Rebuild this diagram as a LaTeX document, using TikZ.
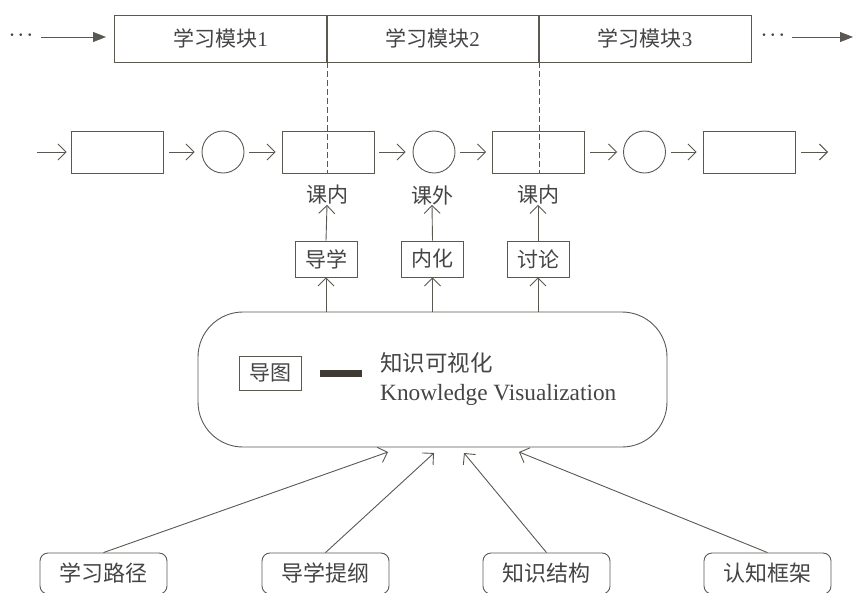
\documentclass[tikz,border=0pt]{standalone}
\usepackage{fontspec}
\setmainfont{Liberation Serif}
\newfontfamily\cjk{Noto Sans CJK SC}
\usetikzlibrary{arrows.meta}
\definecolor{ln}{HTML}{5B5852}
\definecolor{tx}{HTML}{444444}
\definecolor{bar}{HTML}{3F3B33}
\tikzset{
  base/.style={draw=ln, line width=0.9pt, text=tx, inner sep=0pt},
  cell/.style={base, minimum width=213pt, minimum height=47pt, font=\fontsize{21}{24}\selectfont},
  sq/.style={base, minimum width=92pt, minimum height=42pt},
  circ/.style={base, circle, minimum size=42pt},
  lab/.style={text=tx, inner sep=0pt, font=\cjk\fontsize{21}{24}\selectfont},
  smallbox/.style={base, minimum width=62pt, minimum height=36pt, font=\cjk\fontsize{21}{24}\selectfont},
  bottombox/.style={base, rounded corners=8pt, minimum width=127pt, minimum height=41pt, font=\cjk\fontsize{22}{26}\selectfont},
  con/.style={draw=ln, line width=0.9pt, -{Straight Barb[length=8pt,width=16pt,line width=0.9pt]}},
  bigarr/.style={draw=ln, line width=0.9pt, -{Triangle[length=13pt,width=10pt]}},
  dashline/.style={draw=ln, line width=0.9pt, dash pattern=on 6pt off 3pt},
  dots/.style={text=tx, inner sep=0pt, font=\fontsize{17}{20}\selectfont\boldmath}
}
\begin{document}
\begin{tikzpicture}[x=1pt,y=-1pt]
\useasboundingbox (0,0) rectangle (853,592);
% top modules
\node[cell] (m1) at (220.5,38.5) {{\cjk 学习模块}1};
\node[cell] (m2) at (432.5,38.5) {{\cjk 学习模块}2};
\node[cell] (m3) at (645,38.5) {{\cjk 学习模块}3};
\node[dots] (dl) at (21,35) {$\cdots$};
\node[dots] (dr) at (773,35) {$\cdots$};
\coordinate (al1) at (41,37);
\coordinate (al2) at (106,37);
\coordinate (ar1) at (792,37);
\coordinate (ar2) at (853,37);
\draw[bigarr] (al1) -- (al2);
\draw[bigarr] (ar1) -- (ar2);
% row of steps
\node[sq] (r1) at (117,152) {};
\node[circ] (c1) at (223,152) {};
\node[sq] (r2) at (328,152) {};
\node[circ] (c2) at (434,152) {};
\node[sq] (r3) at (538.5,152) {};
\node[circ] (c3) at (644.5,152) {};
\node[sq] (r4) at (749,152) {};
\coordinate (s0) at (37,152);
\coordinate (s9) at (828,152);
\draw[con, shorten >=4pt] (s0) -- (r1);
\draw[con, shorten <=6pt, shorten >=7pt] (r1) -- (c1);
\draw[con, shorten <=5pt, shorten >=6pt] (c1) -- (r2);
\draw[con, shorten <=5pt, shorten >=7pt] (r2) -- (c2);
\draw[con, shorten <=5pt, shorten >=6pt] (c2) -- (r3);
\draw[con, shorten <=5pt, shorten >=6pt] (r3) -- (c3);
\draw[con, shorten <=5pt, shorten >=6pt] (c3) -- (r4);
\draw[con, shorten <=6pt] (r4) -- (s9);
% dashed separators
\draw[dashline] (m1.south east) -- (m1.south east |- r2.south);
\draw[dashline] (m2.south east) -- (m2.south east |- r3.south);
% labels
\node[lab] (k1) at (327,195) {课内};
\node[lab] (k2) at (432,195) {课外};
\node[lab] (k3) at (538,195) {课内};
\node[smallbox] (b1) at (326,259) {导学};
\node[smallbox] (b2) at (432.5,259) {内化};
\node[smallbox] (b3) at (538,259) {讨论};
% big box
\node[base, rounded corners=45pt, minimum width=469pt, minimum height=135pt] (big) at (432.5,379.5) {};
\node[base, minimum width=62pt, minimum height=34pt, font=\cjk\fontsize{21}{24}\selectfont] (dt) at (270,373) {导图};
\coordinate (bar1) at (320,373);
\coordinate (bar2) at (362,373);
\draw[draw=bar, line width=7pt] (bar1) -- (bar2);
\node[lab, anchor=west, font=\cjk\fontsize{22.5}{26}\selectfont] (kv1) at (380,363) {知识可视化};
\node[text=tx, inner sep=0pt, anchor=west, font=\fontsize{23.3}{27}\selectfont] (kv2) at (380,395) {Knowledge Visualization};
% up arrows
\draw[con] (b1.north) -- (k1.south);
\draw[con] (b2.north) -- (k2.south);
\draw[con] (b3.north) -- (k3.south);
\draw[con] (b1.south |- big.north) -- (b1.south);
\draw[con] (b2.south |- big.north) -- (b2.south);
\draw[con] (b3.south |- big.north) -- (b3.south);
% bottom boxes
\node[bottombox] (f1) at (103.5,573.5) {学习路径};
\node[bottombox] (f2) at (325.5,573.5) {导学提纲};
\node[bottombox] (f3) at (546.5,573.5) {知识结构};
\node[bottombox] (f4) at (767.5,573.5) {认知框架};
\coordinate (t1) at (388,452);
\coordinate (t2) at (434,453);
\coordinate (t3) at (464,453);
\coordinate (t4) at (519,452);
\draw[con] (f1.north) -- (t1);
\draw[con] (f2.north) -- (t2);
\draw[con] (f3.north) -- (t3);
\draw[con] (f4.north) -- (t4);
\end{tikzpicture}
\end{document}
